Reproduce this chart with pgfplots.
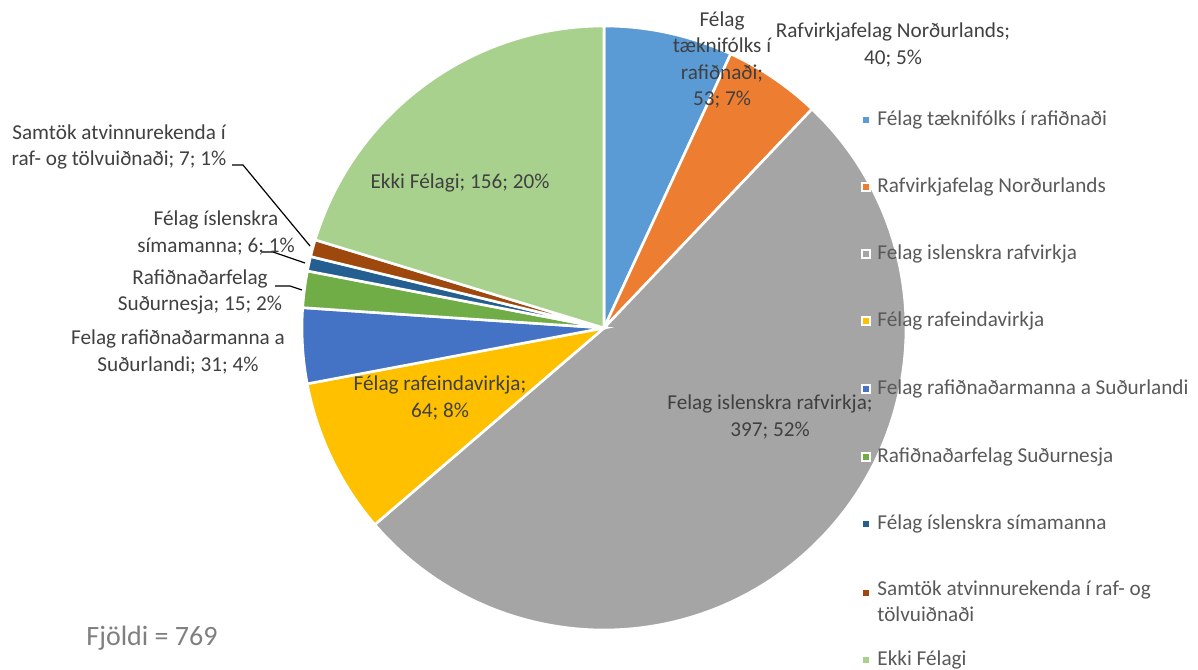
\documentclass[border=0pt]{standalone}
\usepackage{pgfplots}
\pgfplotsset{compat=1.18}
\usepackage{fontspec}
\setmainfont{Carlito}

\definecolor{cTech}{HTML}{5B9BD5}
\definecolor{cNord}{HTML}{ED7D31}
\definecolor{cRafv}{HTML}{A5A5A5}
\definecolor{cRafe}{HTML}{FFC000}
\definecolor{cSudl}{HTML}{4472C4}
\definecolor{cSudn}{HTML}{70AD47}
\definecolor{cSima}{HTML}{255E91}
\definecolor{cSamt}{HTML}{9E480E}
\definecolor{cEkki}{HTML}{A9D18E}
\definecolor{lbl}{HTML}{404040}
\definecolor{leg}{HTML}{595959}
\definecolor{note}{HTML}{7F7F7F}

\newcommand\lblfont{\fontsize{10.6}{13.3}\selectfont}

% slice: count before this slice, value, colour (total 769, clockwise from top)
\newcommand\slice[3]{%
  \fill[#3, draw=white, line width=1.3pt] (axis cs:604,341)
    -- ++({90-#1/769*360}:151pt)
    arc[start angle={90-#1/769*360}, end angle={90-(#1+#2)/769*360}, radius=151pt]
    -- cycle;}

% legend entry: y (px from top), colour, text
\newcommand\legitem[3]{%
  \fill[#2, draw=white, line width=0.6pt] (axis cs:862,{669-#1-4}) rectangle (axis cs:870,{669-#1+4});
  \node[anchor=west, text=leg, font=\lblfont, inner sep=0pt] at (axis cs:877,{669-#1}) {#3};}

\begin{document}
\begin{tikzpicture}
\begin{axis}[
    x=0.5pt, y=0.5pt,
    xmin=0, xmax=1198, ymin=0, ymax=669,
    hide axis, clip=false,
]
\path (axis cs:0,0) rectangle (axis cs:1198,669);

\slice{0}{53}{cTech}
\slice{53}{40}{cNord}
\slice{93}{397}{cRafv}
\slice{490}{64}{cRafe}
\slice{554}{31}{cSudl}
\slice{585}{15}{cSudn}
\slice{600}{6}{cSima}
\slice{606}{7}{cSamt}
\slice{613}{156}{cEkki}

% leader lines
\draw[black, line width=0.6pt] (axis cs:232,{669-165}) -- (axis cs:243,{669-165}) -- (axis cs:310,{669-246});
\draw[black, line width=0.6pt] (axis cs:262,{669-252}) -- (axis cs:273,{669-252}) -- (axis cs:305,{669-263});
\draw[black, line width=0.6pt] (axis cs:275,{669-286}) -- (axis cs:290,{669-286}) -- (axis cs:302,{669-290});

% data labels
\begin{scope}[every node/.style={align=center, text=lbl, font=\lblfont, inner sep=0pt}]
\node at (axis cs:722,{669-60}) {Félag\\tæknifólks í\\rafiðnaði;\\53; 7\%};
\node at (axis cs:893,{669-45}) {Rafvirkjafelag Norðurlands;\\40; 5\%};
\node at (axis cs:770,{669-417}) {Felag islenskra rafvirkja;\\397; 52\%};
\node at (axis cs:440,{669-398}) {Félag rafeindavirkja;\\64; 8\%};
\node at (axis cs:178,{669-352}) {Felag rafiðnaðarmanna a\\Suðurlandi; 31; 4\%};
\node at (axis cs:200,{669-292}) {Rafiðnaðarfelag\\Suðurnesja; 15; 2\%};
\node at (axis cs:216,{669-233}) {Félag íslenskra\\símamanna; 6; 1\%};
\node at (axis cs:119,{669-147}) {Samtök atvinnurekenda í\\raf- og tölvuiðnaði; 7; 1\%};
\node at (axis cs:460,{669-183}) {Ekki Félagi; 156; 20\%};
\end{scope}

% legend
\legitem{120}{cTech}{Félag tæknifólks í rafiðnaði}
\legitem{187}{cNord}{Rafvirkjafelag Norðurlands}
\legitem{254}{cRafv}{Felag islenskra rafvirkja}
\legitem{321}{cRafe}{Félag rafeindavirkja}
\legitem{389}{cSudl}{Felag rafiðnaðarmanna a Suðurlandi}
\legitem{457}{cSudn}{Rafiðnaðarfelag Suðurnesja}
\legitem{524}{cSima}{Félag íslenskra símamanna}
\fill[cSamt, draw=white, line width=0.6pt] (axis cs:862,{669-593-4}) rectangle (axis cs:870,{669-593+4});
\node[anchor=north west, align=left, text=leg, font=\lblfont, inner sep=0pt] at (axis cs:877,{669-580}) {Samtök atvinnurekenda í raf- og\\tölvuiðnaði};
\legitem{660}{cEkki}{Ekki Félagi}

\node[text=note, font=\fontsize{14}{16}\selectfont, inner sep=0pt] at (axis cs:152,{669-638}) {Fjöldi = 769};
\end{axis}
\pgfresetboundingbox
\path (current axis.south west) rectangle (current axis.north east);
\end{tikzpicture}
\end{document}
